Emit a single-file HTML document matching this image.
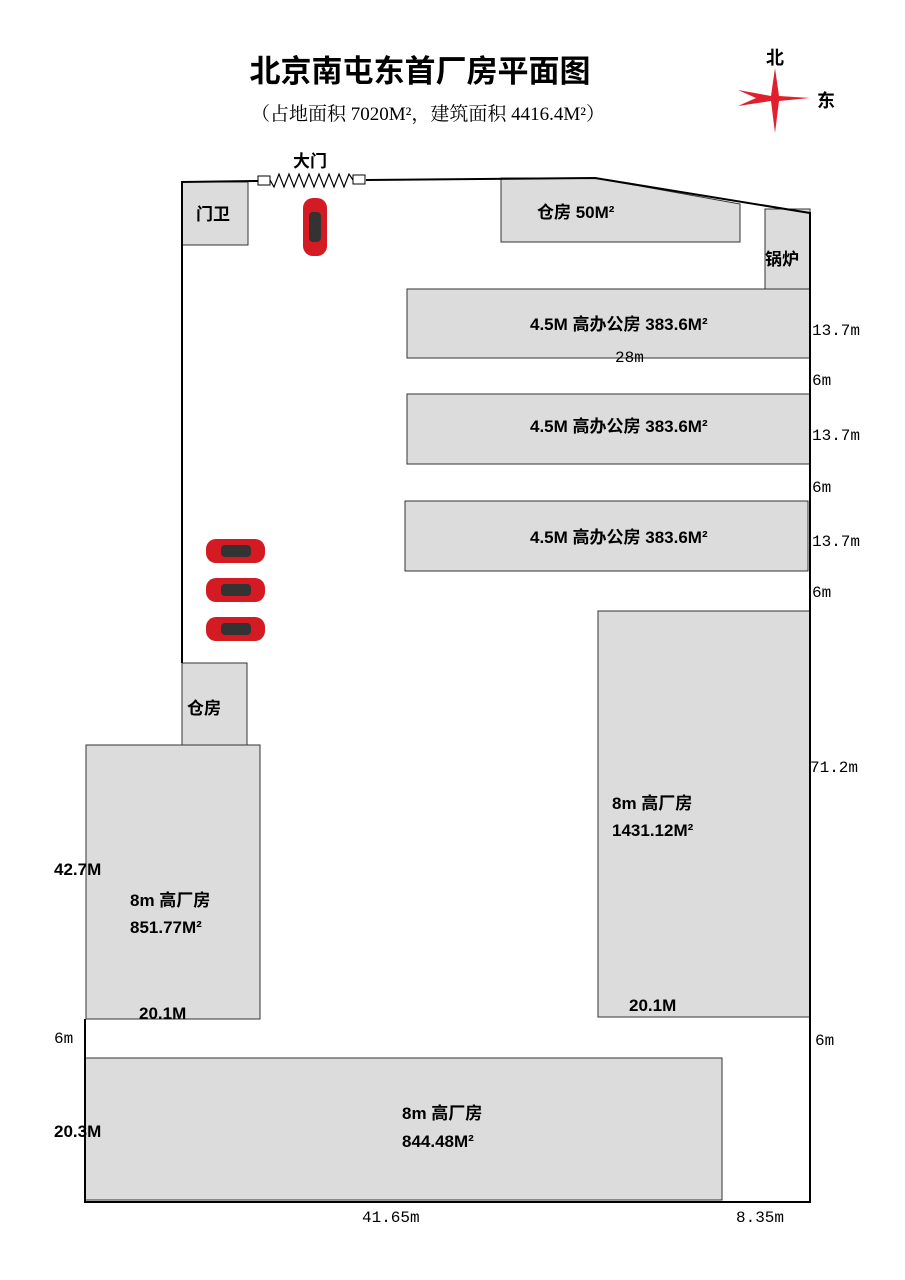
<!DOCTYPE html>
<html><head><meta charset="utf-8"><style>
html,body{margin:0;padding:0;background:#fff;width:905px;height:1280px;overflow:hidden}
svg text{font-family:"Liberation Sans","Noto Sans CJK SC",sans-serif;fill:#000}
svg text.m{font-family:"Liberation Mono","Noto Sans CJK SC",monospace}
svg text.s{font-family:"Liberation Serif","Noto Serif CJK SC",serif}
</style></head><body>
<svg width="905" height="1280" viewBox="0 0 905 1280" xmlns="http://www.w3.org/2000/svg">
<text x="420" y="82" font-size="31" font-weight="bold" text-anchor="middle">北京南屯东首厂房平面图</text>
<text class="s" x="428" y="120" font-size="19" text-anchor="middle">（占地面积 7020M²，建筑面积 4416.4M²）</text>
<polygon points="775,68 779,96 810,98 779,101 775,133 771,101 738,106 756,98 738,90 771,96" fill="#e0202c"/>
<text x="775" y="64" font-size="18" font-weight="bold" text-anchor="middle">北</text>
<text x="826" y="107" font-size="18" font-weight="bold" text-anchor="middle">东</text>
<g fill="#dcdcdc" stroke="#333" stroke-width="1">
<rect x="182" y="182" width="66" height="63"/>
<polygon points="501,178 595,178 740,204 740,242 501,242"/>
<rect x="765" y="209" width="45" height="80"/>
<rect x="407" y="289" width="403" height="69"/>
<rect x="407" y="394" width="403" height="70"/>
<rect x="405" y="501" width="403" height="70"/>
<rect x="182" y="663" width="65" height="84"/>
<rect x="86" y="745" width="174" height="274"/>
<rect x="598" y="611" width="212" height="406"/>
<rect x="85" y="1058" width="637" height="142"/>
</g>
<g fill="none" stroke="#000" stroke-width="2">
<polyline points="182,663 182,182 258,181"/>
<polyline points="366,180 595,178 810,213 810,1202 85,1202 85,1058"/>
<line x1="85" y1="1019" x2="85" y2="1058"/>
</g>
<rect x="258" y="176" width="12" height="9" fill="#fff" stroke="#000"/>
<rect x="353" y="175" width="12" height="9" fill="#fff" stroke="#000"/>
<polyline points="270,180 274,187 279,174 284,187 289,174 294,187 299,174 304,187 309,174 314,187 319,174 324,187 329,174 334,187 339,174 344,187 349,174 353,180" fill="none" stroke="#000" stroke-width="1.2"/>
<text x="310" y="167" font-size="17" font-weight="bold" text-anchor="middle">大门</text>
<g fill="#d41a22">
<rect x="303" y="198" width="24" height="58" rx="10"/>
<rect x="206" y="539" width="59" height="24" rx="10"/>
<rect x="206" y="578" width="59" height="24" rx="10"/>
<rect x="206" y="617" width="59" height="24" rx="10"/>
</g>
<g fill="#333">
<rect x="309" y="212" width="12" height="30" rx="4"/>
<rect x="221" y="545" width="30" height="12" rx="4"/>
<rect x="221" y="584" width="30" height="12" rx="4"/>
<rect x="221" y="623" width="30" height="12" rx="4"/>
</g>
<g font-size="17" font-weight="bold">
<text x="196" y="220">门卫</text>
<text x="537" y="218">仓房 50M²</text>
<text x="765" y="265">锅炉</text>
<text x="530" y="330">4.5M 高办公房 383.6M²</text>
<text x="530" y="432">4.5M 高办公房 383.6M²</text>
<text x="530" y="543">4.5M 高办公房 383.6M²</text>
<text x="187" y="714">仓房</text>
<text x="612" y="809">8m 高厂房</text>
<text x="612" y="836">1431.12M²</text>
<text x="130" y="906">8m 高厂房</text>
<text x="130" y="933">851.77M²</text>
<text x="402" y="1119">8m 高厂房</text>
<text x="402" y="1147">844.48M²</text>
<text x="139" y="1019">20.1M</text>
<text x="629" y="1011">20.1M</text>
<text x="54" y="875">42.7M</text>
<text x="54" y="1137">20.3M</text>
</g>
<g font-size="16">
<text class="m" x="615" y="362">28m</text>
<text class="m" x="812" y="335">13.7m</text>
<text class="m" x="812" y="385">6m</text>
<text class="m" x="812" y="440">13.7m</text>
<text class="m" x="812" y="492">6m</text>
<text class="m" x="812" y="546">13.7m</text>
<text class="m" x="812" y="597">6m</text>
<text class="m" x="810" y="772">71.2m</text>
<text class="m" x="815" y="1045">6m</text>
<text class="m" x="54" y="1043">6m</text>
<text class="m" x="362" y="1222">41.65m</text>
<text class="m" x="736" y="1222">8.35m</text>
</g>
</svg>
</body></html>
